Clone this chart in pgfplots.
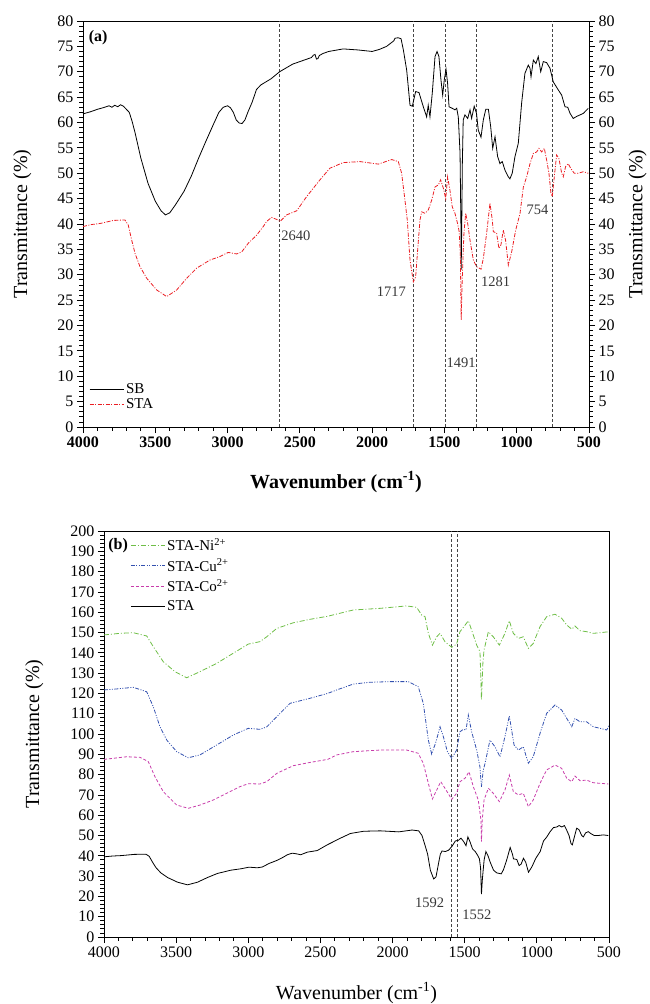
\documentclass[border=0pt]{standalone}
\usepackage{fontspec}
\setmainfont{Liberation Serif}
\usepackage{pgfplots}
\usepackage{pgfplotstable}
\pgfplotsset{compat=1.18}

\definecolor{stared}{RGB}{235,30,35}
\definecolor{nigreen}{RGB}{110,190,70}
\definecolor{cublue}{RGB}{50,80,175}
\definecolor{comag}{RGB}{200,60,170}
\definecolor{refgray}{RGB}{70,70,70}
\definecolor{annot}{RGB}{55,55,55}

% SB spectrum
\pgfplotstableread{
w t
4000 61.7
3950 62.1
3900 62.6
3850 63.0
3820 63.3
3800 63.0
3780 63.4
3760 63.1
3740 63.5
3720 63.2
3700 62.6
3680 62.0
3660 60.2
3640 58.0
3600 53.0
3550 48.0
3500 44.5
3460 42.6
3430 41.8
3400 42.2
3360 43.8
3300 46.5
3250 49.5
3200 53.0
3150 56.3
3100 59.5
3060 62.0
3030 63.0
3000 63.3
2980 62.9
2960 62.0
2940 60.5
2920 59.9
2900 59.8
2880 60.5
2860 62.0
2830 64.0
2800 66.5
2770 67.4
2700 68.6
2640 70.0
2550 71.5
2450 72.5
2420 72.8
2405 73.3
2395 73.4
2385 72.5
2375 72.6
2365 73.2
2340 73.6
2300 74.0
2200 74.5
2100 74.3
2000 74.0
1950 74.4
1900 75.0
1850 76.1
1842 76.6
1820 76.7
1800 76.5
1784 74.3
1761 70.3
1738 63.4
1722 63.2
1699 66.1
1676 65.9
1646 63.1
1623 61.1
1612 63.4
1600 61.1
1584 65.8
1565 73.0
1551 74.0
1538 73.0
1524 68.4
1512 65.4
1501 68.4
1489 70.5
1478 67.7
1468 63.1
1446 62.8
1427 62.5
1415 62.8
1404 61.1
1392 54.0
1386 40.0
1384 31.0
1380 40.0
1376 52.0
1370 60.5
1358 61.5
1339 60.8
1323 62.5
1312 60.8
1294 63.2
1278 61.8
1266 58.5
1247 57.1
1231 60.5
1214 62.6
1196 62.6
1180 59.2
1166 54.9
1150 57.2
1132 53.3
1116 51.9
1100 52.3
1081 50.6
1058 49.3
1047 48.9
1031 50.0
1012 53.3
989 55.9
966 63.8
943 69.7
920 71.3
908 70.7
901 69.0
885 72.3
867 71.6
851 73.0
834 70.0
816 72.0
793 71.8
770 70.7
747 68.0
712 66.4
689 65.4
666 63.1
647 63.0
631 61.8
609 60.8
585 61.2
562 61.5
539 61.8
505 62.8
}\sbdata

% STA spectrum
\pgfplotstableread{
w t
4000 39.5
3940 39.9
3882 40.1
3790 40.7
3710 40.8
3687 39.8
3663 36.8
3640 34.2
3606 31.6
3559 29.3
3490 27.0
3421 25.7
3352 27.0
3283 29.3
3214 31.3
3122 32.9
3052 33.6
2995 34.4
2937 34.1
2902 34.5
2857 36.2
2799 37.8
2753 39.5
2730 40.5
2695 41.3
2660 40.9
2637 40.5
2591 41.8
2522 42.6
2453 45.4
2361 48.7
2292 51.0
2200 52.1
2084 52.3
1957 51.8
1865 52.7
1819 52.3
1796 50.0
1773 44.7
1757 40.8
1738 32.9
1715 28.6
1699 29.6
1680 36.8
1669 40.8
1657 42.4
1634 42.1
1611 42.8
1588 44.7
1565 47.3
1542 47.7
1526 48.7
1507 47.0
1491 45.0
1478 49.3
1462 46.7
1446 43.4
1427 42.1
1409 40.1
1398 38.5
1390 34.0
1384 21.1
1378 28.0
1372 33.0
1365 38.2
1353 42.1
1339 40.1
1323 36.8
1300 32.9
1278 31.6
1247 31.1
1231 33.2
1208 38.2
1185 44.1
1169 40.8
1162 38.5
1139 38.2
1123 35.2
1109 35.9
1093 38.8
1077 36.8
1058 31.9
1035 34.5
1007 38.8
977 42.1
954 47.3
931 49.3
908 51.9
885 53.9
862 54.2
846 54.9
827 54.2
809 54.9
793 52.6
777 50.0
763 46.0
754 45.4
740 49.3
724 53.6
708 52.9
689 50.0
678 49.3
662 51.3
644 51.9
625 50.9
602 50.0
575 50.0
539 50.3
505 50.0
}\stadata

% STA-Co2+
\pgfplotstableread{
w t
4000 87.5
3843 88.8
3750 88.5
3693 86.4
3647 79.0
3589 71.6
3496 65.0
3416 63.4
3335 65.0
3242 67.5
3150 70.8
3057 74.1
3000 75.5
2919 75.4
2872 76.5
2803 80.6
2688 84.4
2572 86.0
2450 87.5
2387 89.7
2272 91.3
2087 92.1
1902 92.1
1822 90.5
1787 85.6
1752 75.7
1724 68.0
1694 72.4
1666 76.5
1637 73.3
1590 67.8
1556 70.8
1533 76.5
1498 78.2
1470 81.4
1440 74.0
1406 67.5
1388 58.0
1384 47.0
1378 58.0
1366 67.5
1336 73.3
1302 70.8
1260 66.7
1221 72.4
1191 79.8
1163 71.6
1128 70.0
1094 70.8
1059 64.2
1025 67.5
978 75.7
932 82.3
874 84.7
828 83.1
793 78.2
758 76.5
736 79.3
701 77.0
655 77.3
609 76.0
562 75.7
505 75.4
}\codata

% STA-Cu2+
\pgfplotstableread{
w t
4000 121.7
3912 122.2
3797 123.0
3704 120.8
3658 113.4
3612 103.6
3565 97.0
3496 91.3
3416 88.3
3335 89.7
3219 94.6
3104 99.5
3000 102.8
2919 102.3
2872 103.5
2803 108.5
2711 115.1
2572 117.6
2450 120.0
2387 121.7
2272 124.6
2156 125.5
2018 125.8
1891 125.8
1822 123.3
1787 115.1
1752 97.0
1729 90.1
1699 96.2
1671 103.6
1648 98.7
1620 91.3
1590 88.0
1556 92.1
1533 101.1
1510 102.3
1491 102.0
1475 109.4
1452 101.1
1417 92.1
1395 84.0
1384 74.0
1372 82.0
1359 85.6
1325 97.0
1290 93.7
1255 88.8
1221 98.7
1191 108.9
1158 94.6
1128 92.1
1094 93.7
1059 85.6
1025 88.8
978 100.3
932 110.2
874 114.3
828 111.8
793 107.7
758 103.6
736 107.7
701 106.0
655 106.0
609 103.6
562 102.8
516 102.0
500 104.0
}\cudata

% STA-Ni2+
\pgfplotstableread{
w t
4000 148.8
3889 149.6
3797 149.9
3704 148.3
3658 143.0
3589 135.6
3508 130.7
3427 127.7
3335 130.7
3219 134.8
3104 139.8
3000 144.3
2919 145.5
2872 147.9
2803 152.0
2688 154.8
2572 156.5
2450 158.0
2387 159.1
2272 161.1
2087 161.9
1902 163.1
1833 162.4
1798 158.6
1775 157.8
1752 149.6
1724 143.8
1694 147.9
1671 149.6
1637 145.5
1590 142.7
1556 144.3
1533 150.4
1505 152.9
1475 155.8
1452 151.2
1417 143.8
1394 140.5
1384 117.0
1374 135.0
1366 141.4
1336 150.4
1302 147.9
1260 143.8
1221 149.6
1191 155.8
1163 149.6
1128 147.1
1094 147.9
1059 142.2
1025 144.6
978 152.9
932 157.8
874 159.0
828 157.0
793 153.7
758 151.6
736 153.2
701 150.9
655 150.4
609 149.6
562 149.9
500 150.4
}\nidata

\pgfplotsset{
  ftir/.style={
    scale only axis,
    x dir=reverse, xmin=500, xmax=4000,
    xtick distance=500, minor x tick num=4,
    minor y tick num=4,
    tick align=outside,
    major tick length=6pt, minor tick length=3.5pt,
    axis line style={line width=0.9pt},
    every tick/.style={line width=0.8pt, black},
    /pgf/number format/assume math mode=true,
    /pgf/number format/1000 sep={},
    tick label style={font=\fontsize{16}{18}\selectfont},
    label style={font=\fontsize{20}{24}\selectfont},
    legend style={draw=none, fill=none, font=\fontsize{15}{18}\selectfont,
      row sep=0pt, inner sep=1pt},
    legend cell align=left,
    legend image code/.code={\draw[#1] (0pt,0pt) -- (34pt,0pt);},
  },
}
\tikzset{
  refline/.style={refgray, line width=0.8pt, dash pattern=on 3pt off 2pt},
  ann/.style={text=annot, font=\fontsize{14.5}{16}\selectfont, inner sep=0pt},
}

\begin{document}
\begin{tikzpicture}
\useasboundingbox (0,0) rectangle (649pt,-1004pt);

% ---------- (a) ----------
\begin{axis}[ftir,
  at={(83pt,-21pt)}, anchor=north west,
  width=506pt, height=406pt,
  ymin=0, ymax=80, ytick distance=5,
  xtick pos=bottom, ytick pos=left,
  xticklabel style={font=\bfseries\fontsize{16}{18}\selectfont},
  xlabel={\bfseries Wavenumber (cm\textsuperscript{-1})},
  ylabel={Transmittance (\%)},
  ylabel style={at={(axis description cs:-0.12,0.5)}, anchor=center},
  xlabel style={at={(axis description cs:0.5,-0.135)}, anchor=center},
  legend style={at={(0.01,0.115)}, anchor=north west},
]
\addplot[refline, forget plot] coordinates {(2640,0) (2640,80)};
\addplot[refline, forget plot] coordinates {(1717,0) (1717,80)};
\addplot[refline, forget plot] coordinates {(1491,0) (1491,80)};
\addplot[refline, forget plot] coordinates {(1281,0) (1281,80)};
\addplot[refline, forget plot] coordinates {(754,0) (754,80)};
\addplot[black, line width=0.8pt] table[x=w, y=t] {\sbdata};
\addlegendentry{SB}
\addplot[stared, line width=0.8pt, dash pattern=on 4pt off 1.5pt on 1pt off 1.5pt] table[x=w, y=t] {\stadata};
\addlegendentry{STA}
\node[ann, anchor=west] at (axis cs:2630,37.6) {2640};
\node[ann, anchor=east] at (axis cs:1766,26.6) {1717};
\node[ann] at (axis cs:1385,12.6) {1491};
\node[ann, anchor=west] at (axis cs:1247,28.6) {1281};
\node[ann] at (axis cs:856,42.8) {754};
\node[font=\bfseries\fontsize{16}{18}\selectfont] at (rel axis cs:0.03,0.958) {(a)};
\end{axis}
\begin{axis}[ftir,
  at={(83pt,-21pt)}, anchor=north west,
  width=506pt, height=406pt,
  ymin=0, ymax=80, ytick distance=5,
  axis x line=none, axis y line*=right,
  ylabel={Transmittance (\%)},
  ylabel style={at={(axis description cs:1.096,0.5)}, anchor=center},
]
\end{axis}

% ---------- (b) ----------
\begin{axis}[ftir,
  at={(104pt,-531pt)}, anchor=north west,
  width=505pt, height=406pt,
  ymin=0, ymax=200, ytick distance=10,
  xtick pos=bottom, ytick pos=left,
  xlabel={Wavenumber (cm\textsuperscript{-1})},
  ylabel={Transmittance (\%)},
  ylabel style={at={(axis description cs:-0.138,0.5)}, anchor=center},
  xlabel style={at={(axis description cs:0.5,-0.138)}, anchor=center},
  legend style={at={(0.05,0.99)}, anchor=north west, row sep=3pt},
]
\addplot[refline, forget plot] coordinates {(1592,0) (1592,200)};
\addplot[refline, forget plot] coordinates {(1552,0) (1552,200)};
\addplot[nigreen, line width=0.8pt, dash pattern=on 5pt off 2pt on 1pt off 2pt] table[x=w, y=t] {\nidata};
\addlegendentry{STA-Ni\textsuperscript{2+}}
\addplot[cublue, line width=0.8pt, dash pattern=on 4pt off 1.5pt on 1pt off 1.5pt on 1pt off 1.5pt] table[x=w, y=t] {\cudata};
\addlegendentry{STA-Cu\textsuperscript{2+}}
\addplot[comag, line width=0.8pt, dash pattern=on 3pt off 2pt] table[x=w, y=t] {\codata};
\addlegendentry{STA-Co\textsuperscript{2+}}
\addplot[black, line width=0.8pt] table[x=w, y=t] {\stadata};
\addlegendentry{STA}
\node[ann] at (axis cs:1744,16.7) {1592};
\node[ann] at (axis cs:1415,10.8) {1552};
\node[font=\bfseries\fontsize{16}{18}\selectfont] at (rel axis cs:0.028,0.963) {(b)};
\end{axis}
\end{tikzpicture}
\end{document}
